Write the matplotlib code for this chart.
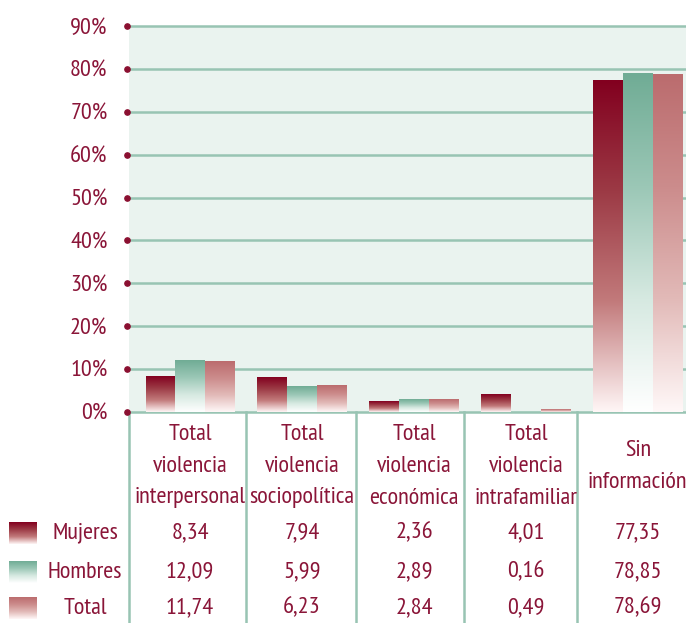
import numpy as np
import matplotlib.pyplot as plt
from matplotlib.colors import LinearSegmentedColormap
from matplotlib.transforms import blended_transform_factory

plt.rcParams['font.family'] = ['PT Sans Narrow', 'DejaVu Sans']

categories = [
    ["Total", "violencia", "interpersonal"],
    ["Total", "violencia", "sociopolítica"],
    ["Total", "violencia", "económica"],
    ["Total", "violencia", "intrafamiliar"],
    ["Sin", "información"],
]
series_names = ["Mujeres", "Hombres", "Total"]
mujeres = [8.34, 7.94, 2.36, 4.01, 77.35]
hombres = [12.09, 5.99, 2.89, 0.16, 78.85]
total = [11.74, 6.23, 2.84, 0.49, 78.69]
yticks = [0, 10, 20, 30, 40, 50, 60, 70, 80, 90]

text_col = "#8A1538"
grid_col = "#98C4B3"
cmaps = [
    LinearSegmentedColormap.from_list("muj", ["#FFF6F6", "#C27A7B", "#9C3A45", "#82001F"]),
    LinearSegmentedColormap.from_list("hom", ["#FFFFFF", "#D6E9E1", "#9BC7B6", "#70AC95"]),
    LinearSegmentedColormap.from_list("tot", ["#FFF8F8", "#E2BAB8", "#CC8C8C", "#BB6C6E"]),
]
fs = 17.5

W, H = 686, 623
fig = plt.figure(figsize=(W / 100, H / 100), dpi=100)
left, right, top, bottom = 129, 686, 26, 412
ax = fig.add_axes([left / W, 1 - bottom / H, (right - left) / W, (bottom - top) / H])
ax.set_facecolor("#EAF3EF")
for s in ax.spines.values():
    s.set_visible(False)

x = np.arange(len(categories))
bw = 0.265
grad = np.linspace(0, 1, 256).reshape(-1, 1)
for i, vals in enumerate([mujeres, hombres, total]):
    bars = ax.bar(x + (i - 1) * bw, vals, bw, color="none", zorder=3)
    for b in bars:
        x0, w, h = b.get_x(), b.get_width(), b.get_height()
        ax.imshow(grad, extent=[x0, x0 + w, 0, h], origin="lower", cmap=cmaps[i],
                  aspect="auto", zorder=3, interpolation="bilinear")

for t in yticks:
    ax.axhline(t, color=grid_col, lw=1.8, zorder=1, clip_on=False)

xmin, xmax = -0.545, 4.43
ax.set_xlim(xmin, xmax)
ax.set_ylim(0, 90)
ax.set_xticks([])
ax.set_yticks(yticks)
ax.set_yticklabels([f"{t}%" for t in yticks], color=text_col, fontsize=fs)
ax.tick_params(axis="y", length=0, pad=15.5)

# red dots beside tick labels
ax.plot([-0.0036] * len(yticks), yticks, "o", color="#8A0F30", ms=3.8,
        transform=ax.get_yaxis_transform(), clip_on=False, zorder=5)

# table below the chart
tr = blended_transform_factory(ax.transData, fig.transFigure)
def fy(py):
    return 1 - py / H

for xb in [xmin, 0.5, 1.48, 2.45, 3.46]:
    ax.plot([xb, xb], [fy(bottom), fy(H)], color=grid_col, lw=1.8,
            transform=tr, clip_on=False)

for i, lines in enumerate(categories):
    ys = [434, 466, 498] if len(lines) == 3 else [450, 482]
    for line, py in zip(lines, ys):
        ax.text(i, fy(py), line, transform=tr, ha="center", va="center",
                fontsize=fs, color=text_col)

row_y = [533, 572, 608]
for vals, py in zip([mujeres, hombres, total], row_y):
    for i, v in enumerate(vals):
        ax.text(i, fy(py), f"{v:.2f}".replace(".", ","), transform=tr,
                ha="center", va="center", fontsize=fs, color=text_col)

for name, py, cm in zip(series_names, row_y, cmaps):
    sax = fig.add_axes([9 / W, fy(py + 11), 28 / W, 22 / H])
    sax.imshow(grad, origin="lower", cmap=cm, aspect="auto", extent=[0, 1, 0, 1])
    sax.set_axis_off()
    fig.text(85 / W, fy(py), name, ha="center", va="center", fontsize=fs, color=text_col)

fig.savefig("out.png", dpi=100)
